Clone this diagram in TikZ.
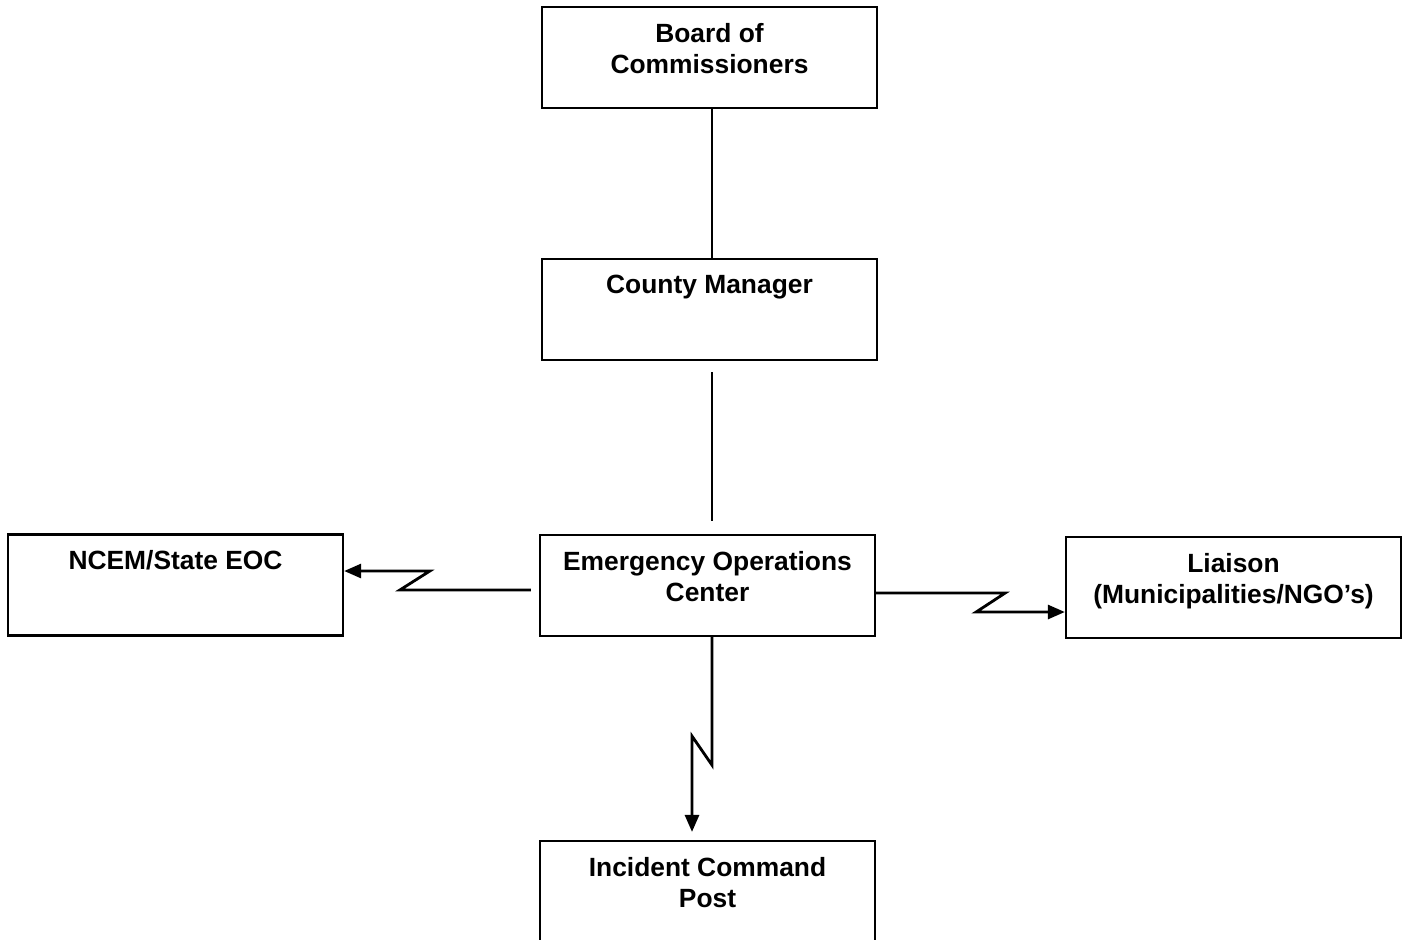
\documentclass[tikz,border=0pt]{standalone}
\usepackage{fontspec}
\setmainfont{Liberation Sans}
\usetikzlibrary{arrows.meta}

\begin{document}
\begin{tikzpicture}[x=0.01cm, y=-0.01cm,
    unit/.style={draw, line width=0.6pt, minimum width=3.35cm,
      minimum height=1.01cm, inner sep=0pt},
    title/.style={anchor=north, yshift=-0.165cm, inner sep=0pt,
      align=center, font=\bfseries\fontsize{7.5}{8.8}\selectfont},
    link/.style={line width=0.8pt},
    order/.style={link, -{Triangle[length=0.17cm, width=0.14cm]}}]
  \useasboundingbox (0, 0) rectangle (1406, 939);
  % chain of command
  \node[unit, label={[title]north:Board of\\Commissioners}] (board) at (709.5, 57.5) {};
  \node[unit, label={[title]north:County Manager}] (manager) at (709.5, 309.5) {};
  \node[unit, label={[title]north:Emergency Operations\\Center}] (eoc) at (707.5, 585.5) {};
  % outside contacts
  \node[unit, label={[title]north:NCEM/State EOC}] (ncem) at (175.5, 585) {};
  \node[unit, label={[title]north:Liaison\\(Municipalities/NGO's)}] (liaison) at (1233.5, 587.5) {};
  \node[unit, label={[title]north:Incident Command\\Post}] (icp) at (707.5, 891.5) {};
  % solid reporting lines
  \draw[link] ([shift={(2.5, 0)}]board.south) -- ([shift={(2.5, 0)}]manager.north);
  \draw[link, shorten <=0.11cm, shorten >=0.13cm]
    ([shift={(2.5, 0)}]manager.south) -- ([shift={(4.5, 0)}]eoc.north);
  % communication links
  \draw[order] ([shift={(-8, 4.5)}]eoc.west) -- ++(-131, 0) -- ++(30, -19)
    coordinate (kinkW) -- (kinkW -| ncem.east);
  \draw[order] ([shift={(0, 7.5)}]eoc.east) -- ++(129, 0) -- ++(-29, 19)
    coordinate (kinkE) -- (kinkE -| liaison.west);
  \draw[order, shorten >=0.08cm] ([shift={(4.5, 0)}]eoc.south) -- ++(0, 128) -- ++(-20, -29)
    coordinate (kinkS) -- (kinkS |- icp.north);
\end{tikzpicture}
\end{document}
